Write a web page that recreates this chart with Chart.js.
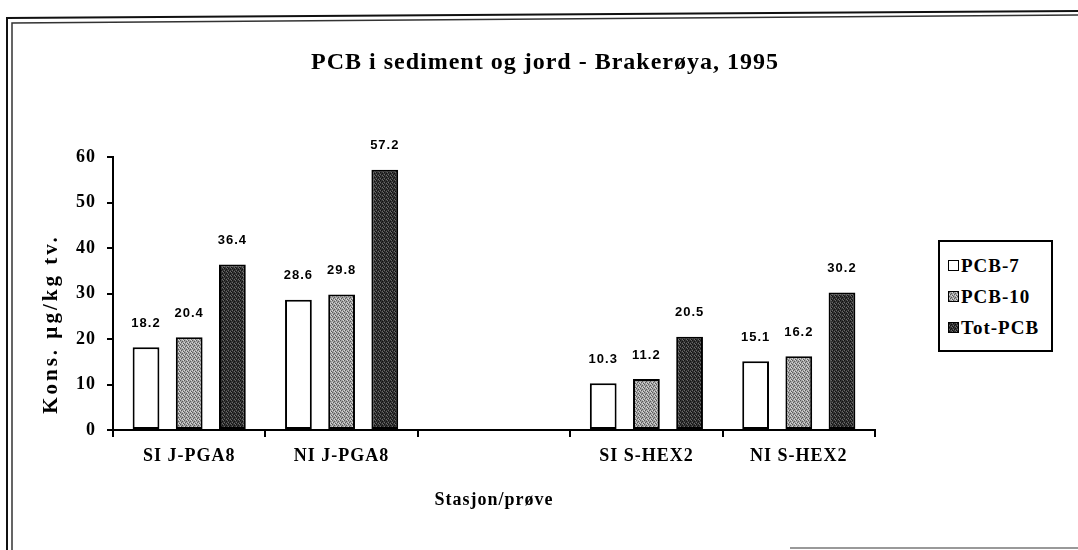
<!DOCTYPE html>
<html>
<head>
<meta charset="utf-8">
<script src="https://cdn.jsdelivr.net/npm/chart.js@4.4.1/dist/chart.umd.min.js"></script>
<style>
  body { margin: 0; background: #fff; }
  #wrap { position: relative; width: 1078px; height: 550px; }
  #legend {
    position: absolute; left: 938px; top: 240px; width: 111px; height: 108px;
    border: 2px solid #000; background: #fff;
    font: bold 19px "Liberation Serif", "Times New Roman", serif; letter-spacing: 1px; color: #000;
  }
  .item { position: absolute; left: 8px; height: 22px; line-height: 22px; white-space: nowrap; }
  .caja { display: inline-block; width: 9px; height: 9px; border: 1.5px solid #000; margin-right: 2px; vertical-align: 1px; }
</style>
</head>
<body>
<div id="wrap">
  <canvas id="grafico" width="1078" height="550"></canvas>
  <div id="legend"></div>
</div>
<script>
// Datos
var estaciones = ['SI J-PGA8', 'NI J-PGA8', '', 'SI S-HEX2', 'NI S-HEX2'];
var pcb7 = [18.2, 28.6, null, 10.3, 15.1];
var pcb10 = [20.4, 29.8, null, 11.2, 16.2];
var totPcb = [36.4, 57.2, null, 20.5, 30.2];
var nombresSeries = ['PCB-7', 'PCB-10', 'Tot-PCB'];
var ticksY = [0, 10, 20, 30, 40, 50, 60];

var serif = '"Liberation Serif", "Times New Roman", serif';

// Tramas punteadas para las barras
function crearTrama(base, oscuro, claro) {
    var c = document.createElement('canvas');
    c.width = 4; c.height = 4;
    var g = c.getContext('2d');
    g.fillStyle = base;
    g.fillRect(0, 0, 4, 4);
    g.fillStyle = oscuro;
    [[0, 0], [2, 1], [1, 2], [3, 3]].forEach(function(p) { g.fillRect(p[0], p[1], 1, 1); });
    g.fillStyle = claro;
    [[2, 3], [0, 2], [3, 0]].forEach(function(p) { g.fillRect(p[0], p[1], 1, 1); });
    return c;
}
var tramaGris = crearTrama('#a2a2a2', '#5a5a5a', '#d8d8d8');
var tramaOscura = crearTrama('#333333', '#111111', '#6a6a6a');
var ctx = document.getElementById('grafico').getContext('2d');
var rellenos = ['#ffffff', ctx.createPattern(tramaGris, 'repeat'), ctx.createPattern(tramaOscura, 'repeat')];
var fondosLeyenda = ['#ffffff', 'url(' + tramaGris.toDataURL() + ')', 'url(' + tramaOscura.toDataURL() + ')'];

// Marco doble alrededor de la figura
var marco = {
    id: 'marco',
    beforeDraw: function(chart) {
        var c = chart.ctx;
        c.save();
        c.fillStyle = '#fff';
        c.fillRect(0, 0, chart.width, chart.height);
        c.strokeStyle = '#111';
        c.lineWidth = 2;
        c.beginPath();
        c.moveTo(7, 550); c.lineTo(7, 18); c.lineTo(1078, 11);
        c.stroke();
        c.lineWidth = 1.5;
        c.strokeStyle = '#333';
        c.beginPath();
        c.moveTo(12, 550); c.lineTo(12, 23); c.lineTo(1078, 15);
        c.stroke();
        c.strokeStyle = '#777';
        c.lineWidth = 1.5;
        c.beginPath();
        c.moveTo(790, 548); c.lineTo(1078, 548);
        c.stroke();
        c.restore();
        c.letterSpacing = '1px';
    },
    afterDraw: function(chart) {
        // titulo del eje y
        var c = chart.ctx;
        c.save();
        c.letterSpacing = '3px';
        c.font = 'bold 21px ' + serif;
        c.fillStyle = '#000';
        c.textAlign = 'center';
        c.textBaseline = 'middle';
        c.translate(52, 324);
        c.rotate(-Math.PI / 2);
        c.fillText('Kons. µg/kg tv.', 0, 0);
        c.restore();
    }
};

// Valores encima de cada barra
var etiquetasDatos = {
    id: 'etiquetasDatos',
    afterDatasetsDraw: function(chart) {
        var c = chart.ctx;
        c.save();
        c.letterSpacing = '1px';
        c.font = 'bold 13px "Liberation Sans", Arial, sans-serif';
        c.fillStyle = '#000';
        c.textAlign = 'center';
        c.textBaseline = 'middle';
        chart.data.datasets.forEach(function(ds, i) {
            chart.getDatasetMeta(i).data.forEach(function(barra, j) {
                var v = ds.data[j];
                if (v === null) return;
                c.fillText(v.toFixed(1), barra.x, barra.y - 24);
            });
        });
        c.restore();
    }
};

var series = [pcb7, pcb10, totPcb];
var grafico = new Chart(ctx, {
    type: 'bar',
    data: {
        labels: estaciones,
        datasets: series.map(function(valores, i) {
            return {
                label: nombresSeries[i],
                data: valores,
                backgroundColor: rellenos[i],
                borderColor: '#000',
                borderWidth: 2,
                borderSkipped: false,
                categoryPercentage: 0.85,
                barPercentage: 0.62
            };
        })
    },
    options: {
        responsive: false,
        animation: false,
        devicePixelRatio: 1,
        layout: { padding: { left: 12, right: 0, top: 0, bottom: 0 } },
        plugins: {
            legend: { display: false },
            tooltip: { enabled: false },
            title: {
                display: true,
                text: 'PCB i sediment og jord - Brakerøya, 1995',
                color: '#000',
                font: { family: serif, size: 24, weight: 'bold', lineHeight: 1.2 },
                padding: { top: 48.6, bottom: 79.6 }
            }
        },
        scales: {
            x: {
                afterFit: function(scale) { scale.height = 120; },
                grid: { offset: true, drawOnChartArea: false, drawTicks: true, tickLength: 7, color: '#000', lineWidth: 2 },
                border: { color: '#000', width: 2 },
                ticks: { color: '#000', padding: 9, font: { family: serif, size: 18, weight: 'bold' } },
                title: {
                    display: true,
                    text: 'Stasjon/prøve',
                    color: '#000',
                    font: { family: serif, size: 18, weight: 'bold', lineHeight: 1.2 },
                    padding: { top: 0, bottom: 39.2 }
                }
            },
            y: {
                min: 0,
                max: 60,
                afterFit: function(scale) { scale.width = 101; },
                afterBuildTicks: function(scale) {
                    scale.ticks = ticksY.map(function(v) { return { value: v }; });
                },
                grid: { drawOnChartArea: false, drawTicks: true, tickLength: 6, color: '#000', lineWidth: 2 },
                border: { color: '#000', width: 2 },
                ticks: { color: '#000', padding: 11, font: { family: serif, size: 18, weight: 'bold' } }
            },
            // espacio a la derecha reservado para la leyenda
            derecha: {
                position: 'right',
                afterFit: function(scale) { scale.width = 203; },
                grid: { display: false },
                border: { display: false },
                ticks: { display: false }
            }
        }
    },
    plugins: [marco, etiquetasDatos]
});

// Leyenda con recuadro
var leyenda = document.getElementById('legend');
nombresSeries.forEach(function(nombre, i) {
    var fila = document.createElement('div');
    fila.className = 'item';
    fila.style.top = (13 + i * 31) + 'px';
    var caja = document.createElement('span');
    caja.className = 'caja';
    caja.style.background = fondosLeyenda[i];
    fila.appendChild(caja);
    fila.appendChild(document.createTextNode(nombre));
    leyenda.appendChild(fila);
});
</script>
</body>
</html>
